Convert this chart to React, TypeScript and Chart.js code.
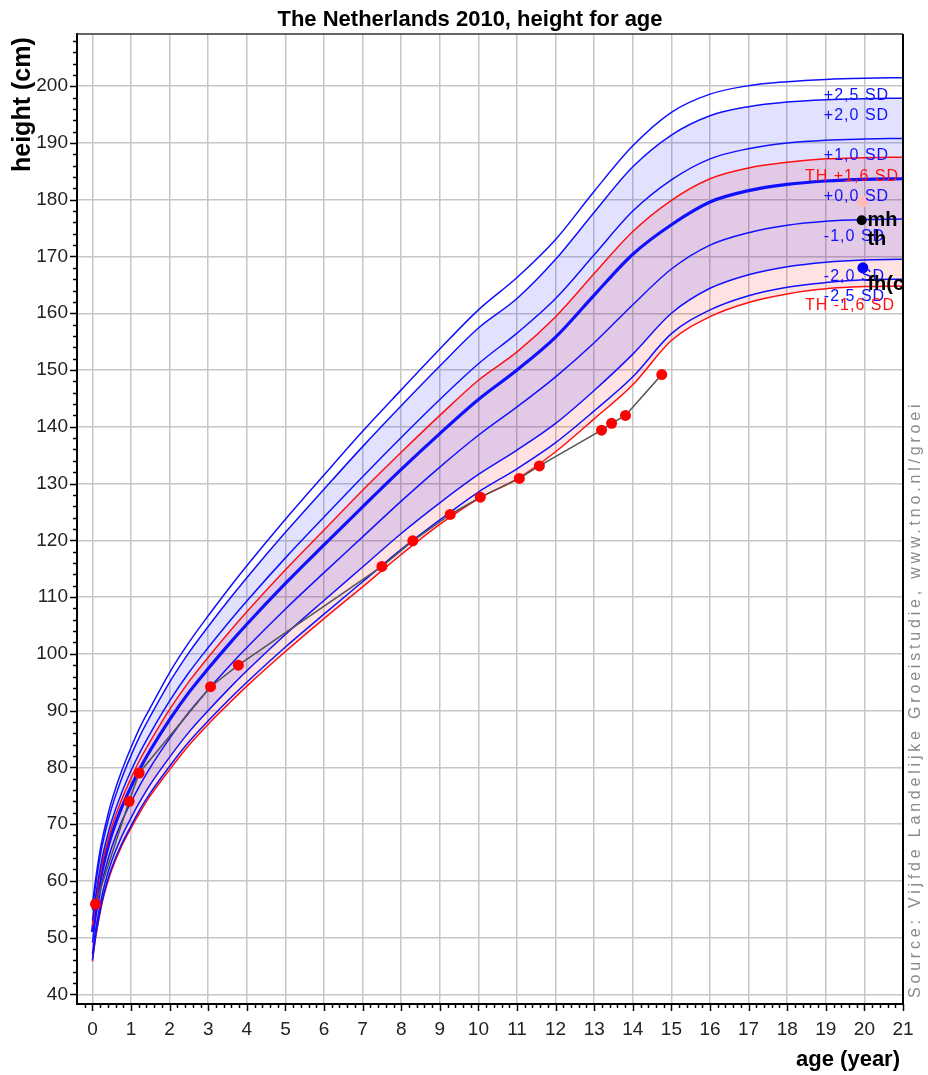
import React, { useEffect, useRef } from "react";
import { Chart, registerables } from "chart.js";

Chart.register(...registerables);

// ---- data ----
const AGES = [0, 0.083, 0.167, 0.25, 0.375, 0.5, 0.75, 1, 1.25, 1.5, 2, 2.5, 3, 3.5, 4, 5, 6, 7, 8, 9, 10, 11, 12, 13, 14, 15, 16, 17, 18, 19, 20, 21];

const SD_P25 = [55.9, 60.3, 64.1, 67.2, 70.9, 74.1, 79.2, 83.5, 87.3, 90.5, 96.7, 102.0, 106.7, 111.2, 115.5, 123.7, 131.5, 139.2, 146.5, 153.7, 160.6, 166.3, 173.0, 181.5, 189.5, 195.4, 198.6, 200.1, 200.8, 201.2, 201.4, 201.5];
const SD_P20 = [54.9, 59.3, 63.0, 66.1, 69.8, 72.9, 77.9, 82.1, 85.8, 89.0, 95.0, 100.2, 104.8, 109.2, 113.4, 121.4, 129.0, 136.5, 143.7, 150.7, 157.4, 162.6, 169.5, 177.8, 185.8, 191.4, 194.8, 196.4, 197.2, 197.6, 197.8, 197.9];
const SD_P10 = [53.0, 57.3, 60.9, 64.0, 67.6, 70.6, 75.4, 79.4, 82.9, 86.0, 91.7, 96.7, 101.1, 105.3, 109.3, 116.9, 124.1, 131.2, 138.1, 144.8, 151.1, 156.5, 162.6, 170.3, 178.0, 183.5, 187.2, 189.0, 190.0, 190.5, 190.7, 190.8];
const TH_PLUS = [52.1, 56.4, 59.9, 63.0, 66.5, 69.5, 74.2, 78.1, 81.6, 84.6, 90.2, 95.1, 99.4, 103.5, 107.4, 114.8, 121.8, 128.8, 135.5, 142.0, 148.2, 153.2, 159.4, 167.0, 174.4, 179.9, 183.7, 185.6, 186.6, 187.2, 187.4, 187.5];
const SD_0 = [51.0, 55.3, 58.8, 61.8, 65.3, 68.2, 72.8, 76.6, 80.0, 83.0, 88.4, 93.2, 97.4, 101.4, 105.2, 112.4, 119.2, 125.9, 132.5, 138.8, 144.8, 150.0, 155.8, 163.2, 170.4, 175.6, 179.6, 181.6, 182.7, 183.3, 183.6, 183.7];
const SD_M10 = [49.1, 53.3, 56.7, 59.7, 63.1, 65.9, 70.3, 73.9, 77.1, 80.0, 85.1, 89.7, 93.7, 97.5, 101.1, 107.9, 114.3, 120.6, 126.9, 132.9, 138.5, 143.5, 148.8, 154.8, 161.5, 167.8, 172.0, 174.2, 175.5, 176.2, 176.5, 176.6];
const SD_M20 = [47.1, 51.3, 54.6, 57.5, 60.8, 63.5, 67.7, 71.1, 74.2, 77.0, 81.8, 86.2, 90.0, 93.6, 97.0, 103.4, 109.4, 115.3, 121.2, 126.6, 131.6, 135.9, 140.6, 146.4, 152.8, 160.0, 164.4, 166.8, 168.2, 169.0, 169.4, 169.5];
const SD_M25 = [46.1, 50.3, 53.6, 56.4, 59.7, 62.3, 66.4, 69.7, 72.8, 75.5, 80.2, 84.5, 88.2, 91.7, 95.0, 101.2, 107.0, 112.7, 118.4, 123.6, 128.5, 132.6, 137.2, 142.8, 148.8, 156.4, 160.6, 163.1, 164.6, 165.4, 165.9, 166.0];
const TH_MINUS = [45.8, 50.0, 53.2, 56.1, 59.3, 61.9, 66.0, 69.3, 72.3, 75.0, 79.6, 83.9, 87.6, 91.0, 94.3, 100.4, 106.2, 111.8, 117.5, 122.8, 127.3, 130.8, 135.6, 141.4, 147.4, 155.2, 159.4, 161.9, 163.4, 164.3, 164.7, 164.8];

const CURVE_LABELS = ["+2,5 SD", "+2,0 SD", "+1,0 SD", "TH +1,6 SD", "+0,0 SD", "-1,0 SD", "-2,0 SD", "-2,5 SD", "TH -1,6 SD"];

const PATIENT_AGES = [0.08, 0.95, 1.21, 3.06, 3.78, 7.5, 8.3, 9.27, 10.05, 11.06, 11.58, 13.19, 13.45, 13.81, 14.75];
const PATIENT_HEIGHTS = [55.9, 74.0, 79.0, 94.2, 98.0, 115.4, 119.9, 124.55, 127.6, 130.9, 133.1, 139.4, 140.6, 142.0, 149.2];

const PARENT_AGES = [19.95, 19.93, 19.96];
const PARENT_HEIGHTS = [179.7, 176.4, 168.0];
const PARENT_TEXT = ["mh", "th", "fh(c)"];
const PARENT_TEXT_HEIGHTS = [176.4, 173.0, 165.0];

const X_TICKS = Array.from({ length: 22 }, (_, i) => i);
const Y_TICKS = [40, 50, 60, 70, 80, 90, 100, 110, 120, 130, 140, 150, 160, 170, 180, 190, 200];

const TITLE = "The Netherlands 2010, height for age";
const Y_TITLE = "height (cm)";
const X_TITLE = "age (year)";
const SOURCE = "Source: Vijfde Landelijke Groeistudie, www.tno.nl/groei";

const FONT = "'Liberation Sans', Arial, Helvetica, sans-serif";
const BLUE = "#1010ff";
const RED = "#ff1010";

export default function App() {
  const ref = useRef<HTMLCanvasElement | null>(null);

  useEffect(() => {
    document.body.style.margin = "0";
    const canvas = ref.current!;
    const pts = (arr: number[]) => AGES.map((a, i) => ({ x: a, y: arr[i] }));
    const curves = [SD_P25, SD_P20, SD_P10, TH_PLUS, SD_0, SD_M10, SD_M20, SD_M25, TH_MINUS];
    const colors = [BLUE, BLUE, BLUE, RED, BLUE, BLUE, BLUE, BLUE, RED];
    const widths = [1.5, 1.5, 1.5, 1.5, 3.2, 1.5, 1.5, 1.5, 1.5];
    const base = 2;
    const curveSets = curves.map((c, i) => {
      const ds: any = {
        label: CURVE_LABELS[i],
        data: pts(c),
        borderColor: colors[i],
        borderWidth: widths[i],
        pointRadius: 0,
        cubicInterpolationMode: "monotone",
        fill: false,
      };
      if (i === 1) {
        ds.fill = { target: base + 6 };
        ds.backgroundColor = "rgba(0,0,255,0.115)";
      }
      if (i === 3) {
        ds.fill = { target: base + 8 };
        ds.backgroundColor = "rgba(255,0,0,0.11)";
      }
      return ds;
    });

    const decor = {
      id: "decor",
      afterDraw(chart: any) {
        const ctx = chart.ctx as CanvasRenderingContext2D;
        const a = chart.chartArea;
        const xs = chart.scales.x;
        const ys = chart.scales.y;
        ctx.save();
        // frame top/right
        ctx.strokeStyle = "#333";
        ctx.lineWidth = 1.5;
        ctx.beginPath();
        ctx.moveTo(a.left, a.top);
        ctx.lineTo(a.right, a.top);
        ctx.stroke();
        ctx.strokeStyle = "#000";
        ctx.lineWidth = 2;
        ctx.beginPath();
        ctx.moveTo(a.right, a.top);
        ctx.lineTo(a.right, a.bottom);
        ctx.stroke();
        // tick marks
        ctx.lineWidth = 1.5;
        ctx.strokeStyle = "#000";
        for (let k = -1; k <= 105; k++) {
          const v = k / 5;
          const px = Math.round(xs.getPixelForValue(v)) + 0.5;
          if (px < a.left || px > a.right + 1) continue;
          const len = k % 5 === 0 ? 7 : 4;
          ctx.beginPath();
          ctx.moveTo(px, a.bottom);
          ctx.lineTo(px, a.bottom + len);
          ctx.stroke();
        }
        for (let v = 40; v <= 208; v += 2) {
          const py = Math.round(ys.getPixelForValue(v)) + 0.5;
          const len = v % 10 === 0 ? 7 : 4;
          ctx.beginPath();
          ctx.moveTo(a.left, py);
          ctx.lineTo(a.left - len, py);
          ctx.stroke();
        }
        // curve labels
        ctx.font = `16px ${FONT}`;
        (ctx as any).letterSpacing = "1px";
        ctx.textAlign = "left";
        ctx.textBaseline = "alphabetic";
        curves.forEach((c, i) => {
          const isTH = colors[i] === RED;
          ctx.fillStyle = isTH ? RED : BLUE;
          const lx = xs.getPixelForValue(isTH ? 18.46 : 18.95);
          const ly = ys.getPixelForValue(c[c.length - 1]) + (isTH ? 24 : 22);
          ctx.fillText(CURVE_LABELS[i], lx, ly);
        });
        // parent labels (clipped to plot)
        ctx.save();
        ctx.beginPath();
        ctx.rect(a.left, a.top, a.right - a.left, a.bottom - a.top);
        ctx.clip();
        (ctx as any).letterSpacing = "0px";
        ctx.font = `bold 20px ${FONT}`;
        ctx.fillStyle = "#000";
        ctx.textBaseline = "middle";
        PARENT_TEXT.forEach((t, i) => {
          ctx.fillText(t, xs.getPixelForValue(20) + 3, ys.getPixelForValue(PARENT_TEXT_HEIGHTS[i]));
        });
        ctx.restore();
        // titles
        (ctx as any).letterSpacing = "0px";
        ctx.fillStyle = "#000";
        ctx.textBaseline = "alphabetic";
        ctx.font = `bold 22px ${FONT}`;
        ctx.textAlign = "center";
        ctx.fillText(TITLE, 470, 26);
        ctx.textAlign = "right";
        ctx.fillText(X_TITLE, 900, 1066);
        ctx.save();
        ctx.font = `bold 25px ${FONT}`;
        ctx.translate(30, 172);
        ctx.rotate(-Math.PI / 2);
        ctx.textAlign = "left";
        ctx.fillText(Y_TITLE, 0, 0);
        ctx.restore();
        ctx.save();
        ctx.font = `16px ${FONT}`;
        (ctx as any).letterSpacing = "3.8px";
        ctx.fillStyle = "#8a8a8a";
        ctx.translate(920, 998);
        ctx.rotate(-Math.PI / 2);
        ctx.textAlign = "left";
        ctx.fillText(SOURCE, 0, 0);
        ctx.restore();
        ctx.restore();
      },
    };

    const chart = new Chart(canvas, {
      type: "line",
      data: {
        datasets: [
          {
            label: "patient",
            data: PATIENT_AGES.map((a, i) => ({ x: a, y: PATIENT_HEIGHTS[i] })),
            borderColor: "#555",
            borderWidth: 1.6,
            pointRadius: 5.5,
            pointBackgroundColor: "#ff0000",
            pointBorderWidth: 0,
            tension: 0,
            fill: false,
          } as any,
          {
            label: "parents",
            data: PARENT_AGES.map((a, i) => ({ x: a, y: PARENT_HEIGHTS[i] })),
            showLine: false,
            pointRadius: [6, 5, 5.5],
            pointBackgroundColor: ["#ffbcbc", "#000000", "#0000ff"],
            pointBorderWidth: 0,
            fill: false,
          } as any,
          ...curveSets,
        ],
      },
      options: {
        responsive: false,
        animation: false,
        events: [],
        layout: { padding: { top: 34, right: 25, left: 0, bottom: 0 } },
        plugins: {
          legend: { display: false },
          tooltip: { enabled: false },
          title: { display: false },
          filler: { drawTime: "beforeDatasetsDraw" } as any,
        },
        scales: {
          x: {
            type: "linear",
            min: -0.4,
            max: 21,
            afterBuildTicks: (s: any) => {
              s.ticks = X_TICKS.map((v) => ({ value: v }));
            },
            afterFit: (s: any) => {
              s.height = 71;
            },
            grid: { color: "#c6c6c6", lineWidth: 1.5, drawTicks: false },
            border: { display: true, color: "#000", width: 2 },
            ticks: { color: "#222", font: { family: FONT, size: 19 }, padding: 14, maxRotation: 0, autoSkip: false },
          },
          y: {
            type: "linear",
            min: 38.3,
            max: 209.2,
            afterBuildTicks: (s: any) => {
              s.ticks = Y_TICKS.map((v) => ({ value: v }));
            },
            afterFit: (s: any) => {
              s.width = 77;
            },
            grid: { color: "#c6c6c6", lineWidth: 1.5, drawTicks: false },
            border: { display: true, color: "#000", width: 2 },
            ticks: { color: "#222", font: { family: FONT, size: 19 }, padding: 9, autoSkip: false },
          },
        },
      },
      plugins: [decor],
    });
    return () => chart.destroy();
  }, []);

  return (
    <div style={{ position: "absolute", left: 0, top: 0, width: 928, height: 1075, background: "#fff" }}>
      <canvas ref={ref} width={928} height={1075} style={{ width: 928, height: 1075, display: "block" }} />
    </div>
  );
}
